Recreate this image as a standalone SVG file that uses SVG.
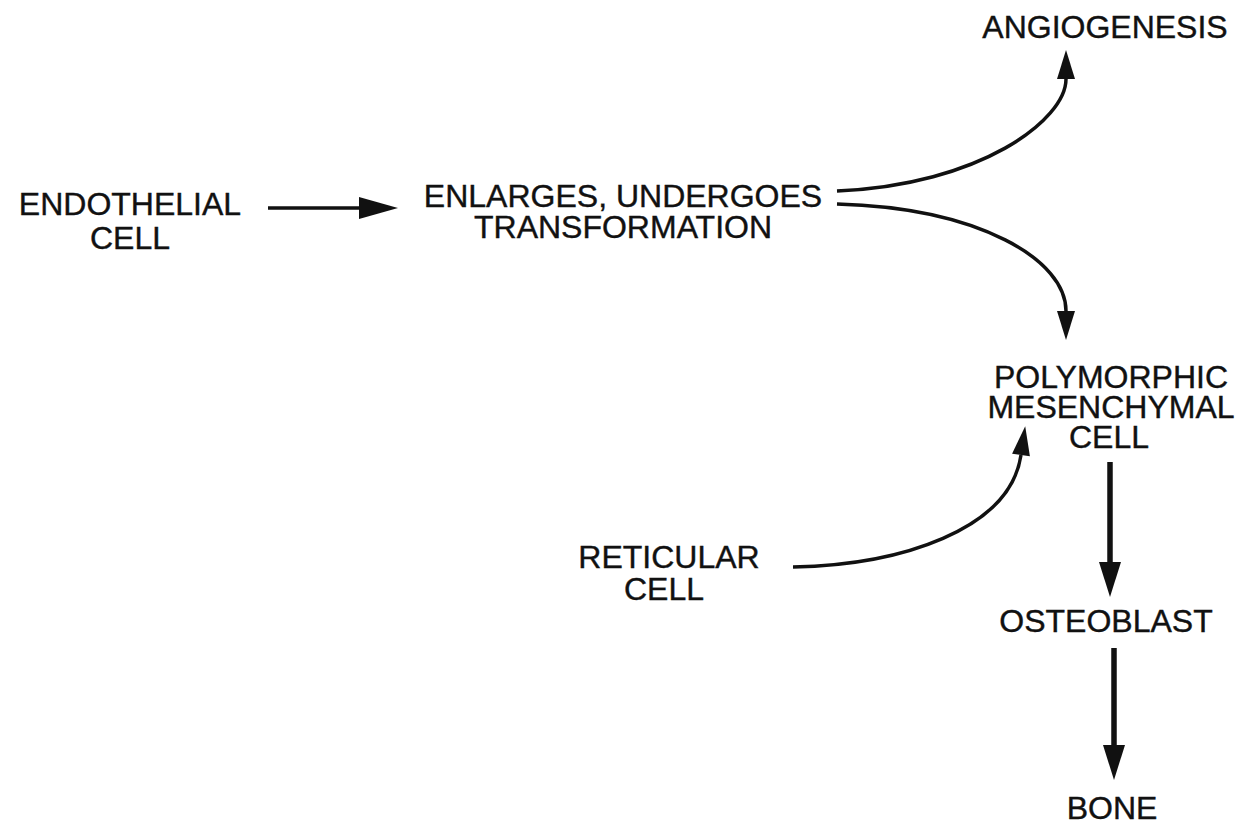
<svg xmlns="http://www.w3.org/2000/svg" width="1237" height="826" viewBox="0 0 1237 826">
<style>
  text { font-family: "Liberation Sans", Arial, Helvetica, sans-serif; font-size: 32px; fill: #111; stroke: #111; stroke-width: 0.4; text-anchor: middle; }
  .conn { fill: none; stroke: #111; stroke-width: 3.5; }
  .bold { stroke-width: 5.5; }
</style>
<defs>
  <marker id="ahH" markerUnits="userSpaceOnUse" markerWidth="40" markerHeight="22" refX="0" refY="11" orient="auto" overflow="visible">
    <path d="M0,0 L39,11 L0,22 Z" fill="#111"/>
  </marker>
  <marker id="ahC" markerUnits="userSpaceOnUse" markerWidth="30" markerHeight="18" refX="0" refY="9" orient="auto" overflow="visible">
    <path d="M0,0 L29,9 L0,18 Z" fill="#111"/>
  </marker>
  <marker id="ahV" markerUnits="userSpaceOnUse" markerWidth="36" markerHeight="22" refX="0" refY="11" orient="auto" overflow="visible">
    <path d="M0,0 L35,11 L0,22 Z" fill="#111"/>
  </marker>
</defs>
<rect width="1237" height="826" fill="#fff"/>

<g id="connectors">
  <path class="conn" d="M268,208 L359,208" marker-end="url(#ahH)"/>
  <path class="conn" d="M837,191 C980,185 1066,120 1066,79" marker-end="url(#ahC)"/>
  <path class="conn" d="M837,204 C980,208 1066,260 1066,311" marker-end="url(#ahC)"/>
  <path class="conn" d="M793,567 C900,565 1010,530 1021,455" marker-end="url(#ahC)"/>
  <path class="conn bold" d="M1110,462 L1110,562" marker-end="url(#ahV)"/>
  <path class="conn bold" d="M1114,648 L1114,745" marker-end="url(#ahV)"/>
</g>

<g id="endothelial">
  <text x="130" y="215">ENDOTHELIAL</text>
  <text x="130" y="249">CELL</text>
</g>
<g id="enlarges">
  <text x="623" y="207">ENLARGES, UNDERGOES</text>
  <text x="623" y="238">TRANSFORMATION</text>
</g>
<g id="angiogenesis">
  <text x="1105" y="38">ANGIOGENESIS</text>
</g>
<g id="polymorphic">
  <text x="1111" y="388">POLYMORPHIC</text>
  <text x="1111" y="418">MESENCHYMAL</text>
  <text x="1109" y="448">CELL</text>
</g>
<g id="reticular">
  <text x="669" y="568">RETICULAR</text>
  <text x="664" y="600">CELL</text>
</g>
<g id="osteoblast">
  <text x="1106" y="632">OSTEOBLAST</text>
</g>
<g id="bone">
  <text x="1112" y="819">BONE</text>
</g>
</svg>
